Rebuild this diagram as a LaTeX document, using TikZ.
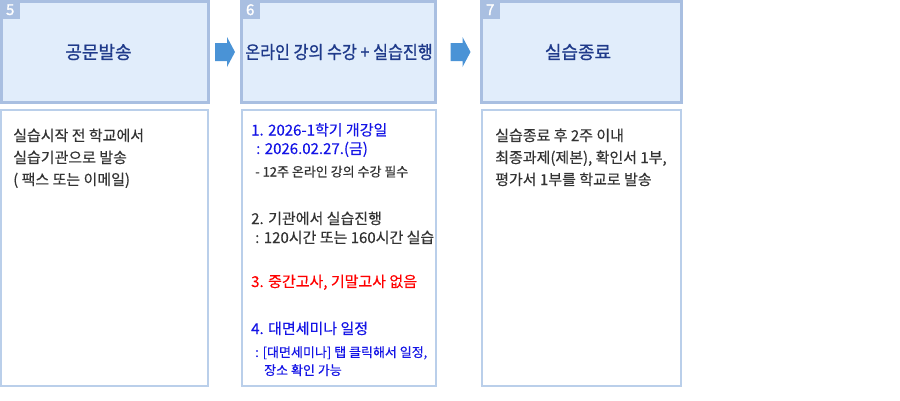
\documentclass[tikz,border=0pt]{standalone}
\usepackage{fontspec}
\setmainfont{Noto Sans CJK KR}[FakeBold=0.3]
\newfontfamily\titlefont{Noto Sans CJK KR}[FakeBold=0.9]
\newfontfamily\tagfont{Noto Sans CJK KR}[FakeBold=1.6]
\usepackage{xcolor}
\usepackage{graphicx}
\usepackage{tikz}
\usetikzlibrary{calc}

\definecolor{headfill}{HTML}{E1EDFB}
\definecolor{headline}{HTML}{A9BFE1}
\definecolor{bodyline}{HTML}{BACFEA}
\definecolor{flowblue}{HTML}{4A93D6}
\definecolor{titleblue}{HTML}{1F3A8A}
\definecolor{bodygray}{HTML}{333333}
\definecolor{noteblue}{HTML}{1414E6}
\definecolor{notered}{HTML}{FF0000}

\tikzset{
	headbox/.style={draw=headline, fill=headfill, line width=3pt, inner sep=0pt},
	headtitle/.style={inner sep=0pt, text=titleblue,
		font=\titlefont\fontsize{18}{20}\selectfont},
	bodybox/.style={draw=bodyline, fill=white, line width=2pt, inner sep=0pt},
	tagbox/.style={fill=headline, text=white, inner sep=0pt, anchor=north west,
		minimum width=20pt, minimum height=19pt, font=\tagfont\fontsize{15}{15}\selectfont},
	txt/.style={anchor=base west, inner sep=0pt, text=bodygray,
		font=\fontsize{15}{17}\selectfont},
	smalltxt/.style={txt, font=\fontsize{13}{15}\selectfont},
}

\begin{document}
\begin{tikzpicture}[x=1pt, y=-1pt]
	\useasboundingbox (0,0) rectangle (900,400);
	%%% step boxes
	\node[headbox, minimum width=207pt, minimum height=101pt] (h5) at (105,52) {};
	\node[headbox, minimum width=194pt, minimum height=101pt] (h6) at (338.5,52) {};
	\node[headbox, minimum width=200pt, minimum height=101pt] (h7) at (581.5,52) {};
	\node[tagbox] (n5) at (h5.north west) {5};
	\node[tagbox] (n6) at (h6.north west) {6};
	\node[tagbox] (n7) at (h7.north west) {7};
	\node[headtitle] (c5) at (98.5,52) {공문발송};
	\node[headtitle] (c6) at (339,52) {\scalebox{0.9}[1]{온라인 강의 수강 + 실습진행}};
	\node[headtitle] (c7) at (578,52) {실습종료};
	
	%%% arrows
	\coordinate (a56) at ($(h5.east)!0.5!(h6.west)$);
	\coordinate (a67) at ($(h6.east)!0.5!(h7.west)+(2,0)$);
	\fill[flowblue] (a56) ++(-10,-9) -- ++(12,0) -- ++(0,-6) -- ++(8,15)
		-- ++(-8,15) -- ++(0,-6) -- ++(-12,0) -- cycle;
	\fill[flowblue] (a67) ++(-10,-9) -- ++(12,0) -- ++(0,-6) -- ++(8,15)
		-- ++(-8,15) -- ++(0,-6) -- ++(-12,0) -- cycle;
	
	%%% detail boxes
	\node[bodybox, minimum width=207pt, minimum height=276pt] (b5) at (104.5,248) {};
	\node[bodybox, minimum width=194pt, minimum height=276pt] (b6) at (339,248) {};
	\node[bodybox, minimum width=199pt, minimum height=276pt] (b7) at (581.5,248) {};
	
	\node[txt] (t5a) at (13,141) {실습시작 전 학교에서};
	\node[txt] (t5b) at (13,163) {실습기관으로 발송};
	\node[txt] (t5c) at (13,185) {( 팩스 또는 이메일)};
	
	\node[txt, text=noteblue] (t6a) at (251,135.5) {1. 2026-1학기 개강일};
	\node[txt, text=noteblue] (t6b) at (256,154) {: 2026.02.27.(금)};
	\node[smalltxt] (t6c) at (255,176.5) {- 12주 온라인 강의 수강 필수};
	\node[txt] (t6d) at (251,224) {2. 기관에서 실습진행};
	\node[txt] (t6e) at (255,243) {: 120시간 또는 160시간 실습};
	\node[txt, text=notered] (t6f) at (251,287) {3. 중간고사, 기말고사 없음};
	\node[txt, text=noteblue] (t6g) at (251,334) {4. 대면세미나 일정};
	\node[smalltxt, text=noteblue] (t6h) at (255,357) {: [대면세미나] 탭 클릭해서 일정,};
	\node[smalltxt, text=noteblue] (t6i) at (264,375) {장소 확인 가능};
	
	\node[txt] (t7a) at (495,141) {실습종료 후 2주 이내};
	\node[txt] (t7b) at (495,163) {최종과제(제본), 확인서 1부,};
	\node[txt] (t7c) at (495,185) {평가서 1부를 학교로 발송};
\end{tikzpicture}
\end{document}
